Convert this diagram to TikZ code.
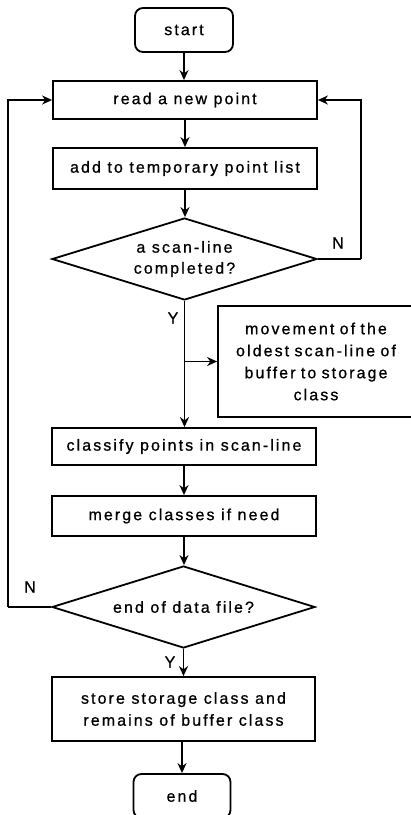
\documentclass[tikz,border=0pt]{standalone}
\usepackage{fontspec}
\setmainfont{Liberation Sans}[LetterSpace=13,FakeBold=0.8]
\usetikzlibrary{shapes.geometric,arrows.meta}
\begin{document}
\begin{tikzpicture}[x=1pt,y=-1pt,
  every node/.style={font=\fontsize{16}{23}\selectfont, text=black},
  box/.style={draw, line width=1.8pt, inner sep=2pt, align=center},
  term/.style={box, rounded corners=8pt},
  dec/.style={draw, line width=1.8pt, diamond, aspect=3.2, inner sep=0pt, align=center},
  arr/.style={draw, line width=1.8pt, -{Stealth[length=10pt,width=9pt]}},
  lbl/.style={inner sep=0pt}]
\clip (0,0) rectangle (411,815);
\fill[white] (0,0) rectangle (411,815);
\node[term, minimum width=98pt, minimum height=44pt] (start) at (184,30) {start};
\node[box, minimum width=264pt, minimum height=38pt] (read) at (185,100) {read a new point};
\node[box, minimum width=264pt, minimum height=41pt] (add) at (185,168.5) {add to temporary point list};
\node[dec, minimum width=265pt, minimum height=82pt] (d1) at (184.5,259) {a scan-line\\[-2pt]completed?};
\node[box, minimum width=196pt, minimum height=111pt, text width=185pt] (move) at (316,361.5) {movement of the\\[-1pt]oldest scan-line of\\[-1pt]buffer to storage\\[-1pt]class};
\node[box, minimum width=264pt, minimum height=37pt] (classify) at (184,446.5) {classify points in scan-line};
\node[box, minimum width=264pt, minimum height=40pt] (merge) at (184,516) {merge classes if need};
\node[dec, minimum width=263pt, minimum height=82pt] (d2) at (183.5,607) {end of data file?};
\node[box, minimum width=263pt, minimum height=64pt] (store) at (183.5,709) {store storage class and\\[-1pt]remains of buffer class};
\node[term, minimum width=97pt, minimum height=44pt] (end) at (182,796) {end};
\node[lbl] (n1) at (338,243) {N};
\node[lbl] (n2) at (30,587) {N};
\node[lbl] (y1) at (173,318) {Y};
\node[lbl] (y2) at (170,662) {Y};
\draw[arr] (start.south) -- (start.south |- read.north);
\draw[arr] (read) -- (add);
\draw[arr] (add.south) -- (add.south |- d1.north);
\draw[line width=1.8pt] (d1.east) -- ++(43,0) coordinate (r1);
\draw[arr] (r1) |- (read.east);
\draw[arr] (d1.south) -- (d1.south |- classify.north);
\coordinate (br) at (d1.south |- move.west);
\draw[arr] (br) -- (move.west);
\draw[arr] (classify) -- (merge);
\draw[arr] (merge.south) -- (merge.south |- d2.north);
\draw[arr] (d2.south) -- (d2.south |- store.north);
\draw[arr] (store.south -| end.north) -- (end.north);
\draw[line width=1.8pt] (d2.west) -- ++(-43,0) coordinate (l1);
\draw[arr] (l1) |- (read.west);
\end{tikzpicture}
\end{document}
